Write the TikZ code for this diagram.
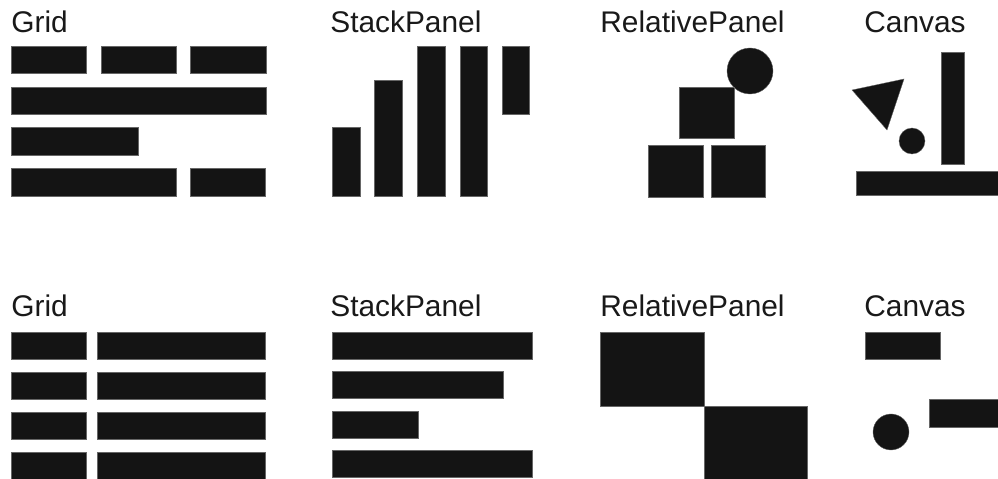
\documentclass[tikz,border=0pt]{standalone}
\usepackage{fontspec}
\setmainfont{Liberation Sans}
\usepackage{tikz}
\usetikzlibrary{positioning}

\tikzset{
 blk/.style={fill=black!92, draw=black!60, line width=0.2pt},
 title/.style={anchor=base west, inner sep=0pt, font=\fontsize{17}{20}\selectfont, text=black!90}
}

\begin{document}
\begin{tikzpicture}[x=0.02cm, y=-0.02cm]
 \useasboundingbox (0,0) rectangle (998,479);

 % titles
 \node[title] (grida) at (11,33) {Grid};
 \node[title] (stacka) at (330,33) {StackPanel};
 \node[title] (rela) at (600,33) {RelativePanel};
 \node[title] (canva) at (864,33) {Canvas};

 \node[title] (gridb) at (11,317) {Grid};
 \node[title] (stackb) at (330,317) {StackPanel};
 \node[title] (relb) at (600,317) {RelativePanel};
 \node[title] (canvb) at (864,317) {Canvas};

 % grid, top
 \fill[blk] (11,46) rectangle (86,73);
 \fill[blk] (101,46) rectangle (176,73);
 \fill[blk] (190,46) rectangle (266,73);
 \fill[blk] (11,87) rectangle (266,114);
 \fill[blk] (11,127) rectangle (138,155);
 \fill[blk] (11,168) rectangle (176,196);
 \fill[blk] (190,168) rectangle (265,196);

 % stack panel, top
 \fill[blk] (332,127) rectangle (360,196);
 \fill[blk] (374,80) rectangle (402,196);
 \fill[blk] (417,46) rectangle (445,196);
 \fill[blk] (460,46) rectangle (487,196);
 \fill[blk] (502,46) rectangle (529,114);

 % relative panel, top
 \fill[blk] (750,71) circle (23);
 \fill[blk] (679,87) rectangle (734,138);
 \fill[blk] (648,145) rectangle (703,197);
 \fill[blk] (711,145) rectangle (765,197);

 % canvas, top
 \fill[blk] (941,52) rectangle (964,164);
 \fill[blk] (852,90) -- (904,79) -- (887,130) -- cycle;
 \fill[blk] (912,141) circle (13);
 \fill[blk] (856,171) rectangle (998,195);

 % grid, bottom
 \foreach \y in {332,372,412,452} {
  \fill[blk] (11,\y) rectangle (86,\y+27);
  \fill[blk] (97,\y) rectangle (265,\y+27);
 }

 % stack panel, bottom
 \fill[blk] (332,332) rectangle (532,359);
 \fill[blk] (332,371) rectangle (503,398);
 \fill[blk] (332,411) rectangle (418,438);
 \fill[blk] (332,450) rectangle (532,477);

 % relative panel, bottom
 \fill[blk] (600,332) rectangle (704,406);
 \fill[blk] (704,406) rectangle (807,479);

 % canvas, bottom
 \fill[blk] (865,332) rectangle (940,359);
 \fill[blk] (891,432) circle (18);
 \fill[blk] (929,399) rectangle (998,427);

\end{tikzpicture}
\end{document}
